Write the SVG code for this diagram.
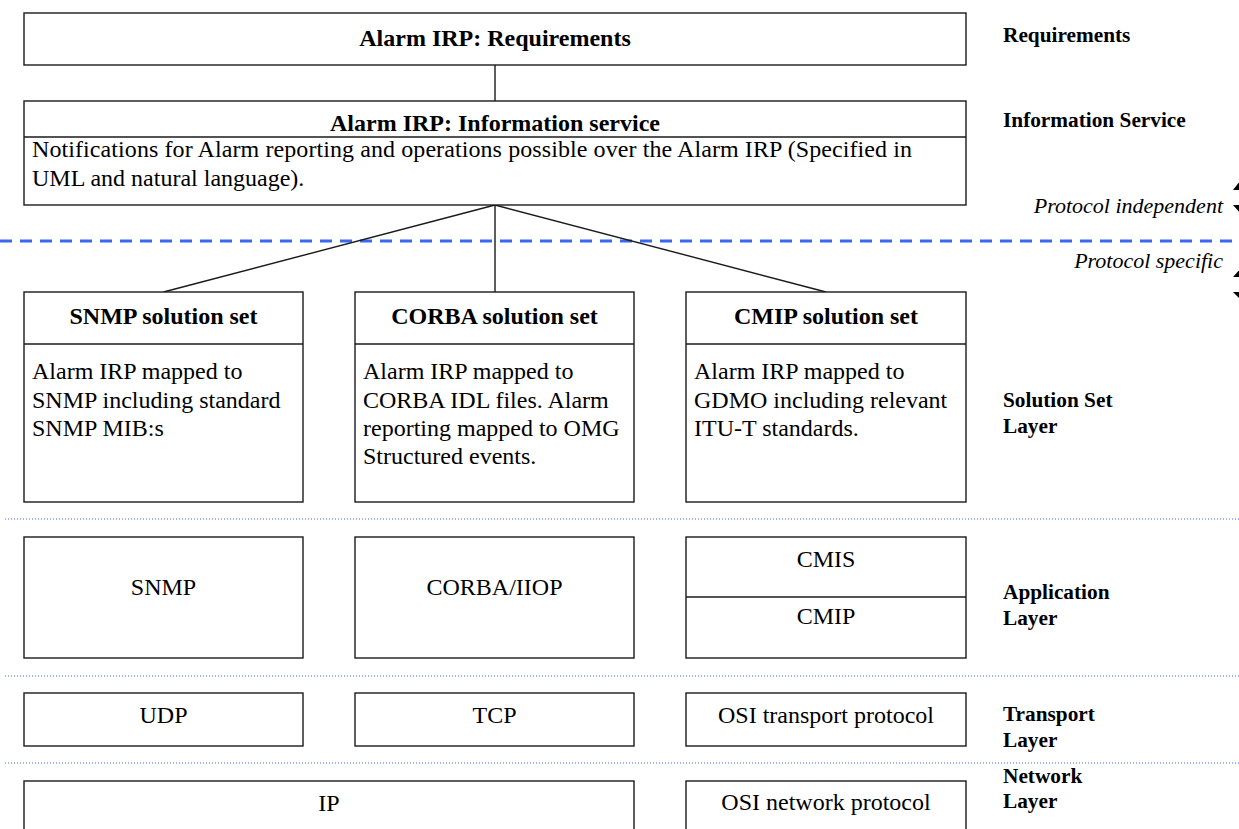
<svg xmlns="http://www.w3.org/2000/svg" width="1239" height="829" viewBox="0 0 1239 829">
<style>
  .box { fill: #ffffff; stroke: #1a1a1a; stroke-width: 1.4; }
  .div { stroke: #1a1a1a; stroke-width: 1.4; fill: none; }
  .conn { stroke: #1a1a1a; stroke-width: 1.4; fill: none; }
  .t { font-family: "Liberation Serif", "Times New Roman", serif; font-size: 24px; fill: #000; }
  .b { font-weight: bold; }
  .c { text-anchor: middle; }
  .lab { font-family: "Liberation Serif", "Times New Roman", serif; font-size: 21.3px; font-weight: bold; fill: #000; }
  .it { font-family: "Liberation Serif", "Times New Roman", serif; font-size: 22px; font-style: italic; fill: #000; text-anchor: end; }
  .dot { stroke: #3d6cf2; stroke-width: 1; stroke-dasharray: 1 2; fill: none; }
  .dash { stroke: #3a66f0; stroke-width: 3; stroke-dasharray: 12 8; fill: none; }
  .ah { fill: #000; }
</style>

<g id="separators">
  <line class="dash" x1="0" y1="241" x2="1239" y2="241"/>
  <line class="dot" x1="5" y1="519" x2="1239" y2="519"/>
  <line class="dot" x1="5" y1="676" x2="1239" y2="676"/>
  <line class="dot" x1="5" y1="763" x2="1239" y2="763"/>
</g>

<g id="connectors">
  <line class="conn" x1="495" y1="65" x2="495" y2="101"/>
  <line class="conn" x1="495" y1="205" x2="163.5" y2="292"/>
  <line class="conn" x1="495" y1="205" x2="495" y2="292"/>
  <line class="conn" x1="495" y1="205" x2="826" y2="292"/>
</g>

<g id="requirements">
  <rect class="box" x="24" y="13" width="942" height="52"/>
  <text class="t b c" x="495" y="46">Alarm IRP: Requirements</text>
</g>

<g id="information-service">
  <rect class="box" x="24" y="101" width="942" height="104"/>
  <line class="div" x1="24" y1="137" x2="966" y2="137"/>
  <text class="t b c" x="495" y="131">Alarm IRP: Information service</text>
  <text class="t" x="32" y="157" textLength="880" lengthAdjust="spacing">Notifications for Alarm reporting and operations possible over the Alarm IRP (Specified in</text>
  <text class="t" x="32" y="186">UML and natural language).</text>
</g>

<g id="snmp-solution-set">
  <rect class="box" x="24" y="292" width="279" height="210"/>
  <line class="div" x1="24" y1="344" x2="303" y2="344"/>
  <text class="t b c" x="163.5" y="324">SNMP solution set</text>
  <text class="t" x="32" y="379">Alarm IRP mapped to</text>
  <text class="t" x="32" y="408">SNMP including standard</text>
  <text class="t" x="32" y="436">SNMP MIB:s</text>
</g>

<g id="corba-solution-set">
  <rect class="box" x="355" y="292" width="279" height="210"/>
  <line class="div" x1="355" y1="344" x2="634" y2="344"/>
  <text class="t b c" x="494.5" y="324">CORBA solution set</text>
  <text class="t" x="363" y="379">Alarm IRP mapped to</text>
  <text class="t" x="363" y="408">CORBA IDL files. Alarm</text>
  <text class="t" x="363" y="436">reporting mapped to OMG</text>
  <text class="t" x="363" y="464">Structured events.</text>
</g>

<g id="cmip-solution-set">
  <rect class="box" x="686" y="292" width="280" height="210"/>
  <line class="div" x1="686" y1="344" x2="966" y2="344"/>
  <text class="t b c" x="826" y="324">CMIP solution set</text>
  <text class="t" x="694" y="379">Alarm IRP mapped to</text>
  <text class="t" x="694" y="408">GDMO including relevant</text>
  <text class="t" x="694" y="436">ITU-T standards.</text>
</g>

<g id="snmp">
  <rect class="box" x="24" y="537" width="279" height="121"/>
  <text class="t c" x="163.5" y="595">SNMP</text>
</g>

<g id="corba-iiop">
  <rect class="box" x="355" y="537" width="279" height="121"/>
  <text class="t c" x="494.5" y="595">CORBA/IIOP</text>
</g>

<g id="cmis-cmip">
  <rect class="box" x="686" y="537" width="280" height="121"/>
  <line class="div" x1="686" y1="597" x2="966" y2="597"/>
  <text class="t c" x="826" y="567">CMIS</text>
  <text class="t c" x="826" y="624">CMIP</text>
</g>

<g id="udp">
  <rect class="box" x="24" y="693" width="279" height="53"/>
  <text class="t c" x="163.5" y="723">UDP</text>
</g>

<g id="tcp">
  <rect class="box" x="355" y="693" width="279" height="53"/>
  <text class="t c" x="494.5" y="723">TCP</text>
</g>

<g id="osi-transport">
  <rect class="box" x="686" y="693" width="280" height="53"/>
  <text class="t c" x="826" y="723">OSI transport protocol</text>
</g>

<g id="ip">
  <rect class="box" x="24" y="781" width="610" height="70"/>
  <text class="t c" x="329" y="811">IP</text>
</g>

<g id="osi-network">
  <rect class="box" x="686" y="781" width="280" height="70"/>
  <text class="t c" x="826" y="810">OSI network protocol</text>
</g>

<g id="layer-labels">
  <text class="lab" x="1003" y="42">Requirements</text>
  <text class="lab" x="1003" y="127">Information Service</text>
  <text class="lab" x="1003" y="407">Solution Set</text>
  <text class="lab" x="1003" y="433">Layer</text>
  <text class="lab" x="1003" y="599">Application</text>
  <text class="lab" x="1003" y="625">Layer</text>
  <text class="lab" x="1003" y="721">Transport</text>
  <text class="lab" x="1003" y="747">Layer</text>
  <text class="lab" x="1003" y="783">Network</text>
  <text class="lab" x="1003" y="808">Layer</text>
</g>

<g id="protocol-labels">
  <text class="it" x="1223" y="213">Protocol independent</text>
  <text class="it" x="1223" y="268">Protocol specific</text>
  <polygon class="ah" points="1240,181 1233,190 1247,190"/>
  <polygon class="ah" points="1233,205 1247,205 1240,213"/>
  <polygon class="ah" points="1240,269 1233,277 1247,277"/>
  <polygon class="ah" points="1233,292 1247,292 1240,299"/>
</g>
</svg>
